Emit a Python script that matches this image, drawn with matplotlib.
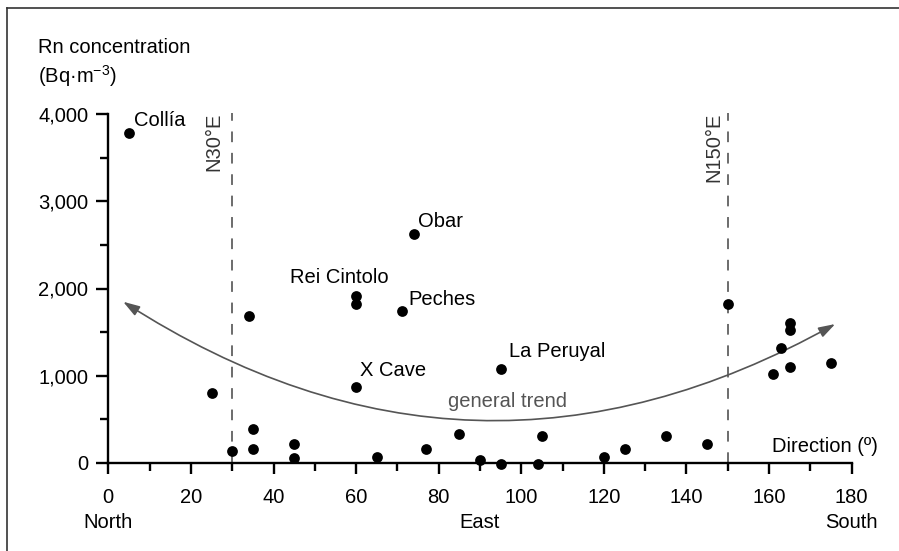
import matplotlib.pyplot as plt
from matplotlib.lines import Line2D

plt.rcParams['font.family'] = ['Liberation Sans', 'DejaVu Sans']
plt.rcParams['mathtext.fontset'] = 'custom'
plt.rcParams['mathtext.rm'] = 'Liberation Sans'
plt.rcParams['mathtext.it'] = 'Liberation Sans'

# cave direction (degrees) vs radon concentration (Bq m-3)
direction = [5, 25, 30, 34, 35, 35, 45, 45, 60, 60, 60, 65, 71, 74, 77, 85,
             90, 95, 95, 104, 105, 120, 125, 135, 145, 150, 161, 163, 165,
             165, 165, 175]
radon = [3790, 800, 130, 1690, 390, 160, 220, 50, 1910, 1820, 870, 70, 1740,
         2620, 160, 330, 30, -15, 1080, -15, 310, 70, 160, 310, 220, 1820,
         1020, 1320, 1600, 1520, 1100, 1150]

# named caves: (name, direction, radon, offset in points, alignment)
cave_names = ['Collía', 'Obar', 'Rei Cintolo', 'Peches', 'X Cave', 'La Peruyal']
cave_dir = [5, 74, 60, 71, 60, 95]
cave_rn = [3790, 2620, 1910, 1740, 870, 1080]
cave_offsets = [(3.8, 4.8), (3.2, 5.4), (-12.3, 9.6), (4.9, 4.5), (2.8, 7.8), (6.3, 8.1)]
cave_ha = ['left', 'left', 'center', 'left', 'left', 'left']

ref_dirs = [30, 150]
ref_labels = ['N30°E', 'N150°E']
ref_top = 4015

trend_start = (3.6, 1848)
trend_end = (176, 1592)

compass_pos = [0, 90, 180]
compass_labels = ['North', 'East', 'South']

xticks = [0, 20, 40, 60, 80, 100, 120, 140, 160, 180]
yticks = [0, 1000, 2000, 3000, 4000]
ytick_labels = ['0', '1,000', '2,000', '3,000', '4,000']

fs = 14.5
fig = plt.figure(figsize=(8.99, 5.51), dpi=100)
ax = fig.add_axes([108.3 / 899, (551 - 462.7) / 551, 743.4 / 899, 348.4 / 551])

ax.scatter(direction, radon, s=60, color='black', zorder=4, clip_on=False, linewidths=0)

for name, x, y, off, ha in zip(cave_names, cave_dir, cave_rn, cave_offsets, cave_ha):
    ax.annotate(name, (x, y), xytext=off, textcoords='offset points',
                ha=ha, va='baseline', fontsize=fs, color='black')

# reference directions
gaps = [-6.0, -3.2]
for x, lab, g in zip(ref_dirs, ref_labels, gaps):
    ax.axvline(x, ymin=0, ymax=ref_top / 4000, color='#444444', lw=1.1,
               dashes=(7, 7), clip_on=False, zorder=1)
    ax.annotate(lab, (x, ref_top), xytext=(g, 0), textcoords='offset points',
                rotation=90, ha='right', va='top', fontsize=fs, color='#333333',
                annotation_clip=False)

# general trend arrow
ax.annotate('', xy=trend_end, xytext=trend_start,
            arrowprops=dict(arrowstyle='<|-|>,head_length=0.5,head_width=0.16',
                            connectionstyle='arc3,rad=0.3', color='#555555',
                            lw=1.2, shrinkA=0, shrinkB=0, mutation_scale=20))
ax.text(96.7, 640, 'general trend', ha='center', va='baseline', fontsize=fs,
        color='#555555')

ax.text(186.3, 123, 'Direction (º)', ha='right', va='baseline', fontsize=fs,
        clip_on=False)

for x, lab in zip(compass_pos, compass_labels):
    ax.text(x, -0.1883, lab, transform=ax.get_xaxis_transform(), ha='center',
            va='baseline', fontsize=fs)

ax.set_xlim(0, 180)
ax.set_ylim(0, 4000)
ax.set_xticks(xticks)
ax.set_xticks(range(10, 180, 20), minor=True)
ax.set_yticks(yticks)
ax.set_yticklabels(ytick_labels)
ax.set_yticks([500, 1500, 2500, 3500], minor=True)

for s in ['top', 'right']:
    ax.spines[s].set_visible(False)
for s in ['left', 'bottom']:
    ax.spines[s].set_linewidth(1.7)

ax.tick_params(axis='x', which='major', length=8, width=1.7, pad=10, labelsize=fs)
ax.tick_params(axis='x', which='minor', length=6, width=1.7)
ax.tick_params(axis='y', which='major', length=8.4, width=1.7, pad=6, labelsize=fs)
ax.tick_params(axis='y', which='minor', length=5.8, width=1.7)

fig.text(38 / 899, 1 - 53 / 551, 'Rn concentration', ha='left', va='baseline', fontsize=fs)
fig.text(38 / 899, 1 - 83.3 / 551, r'(Bq·m$^{\mathregular{-3}}$)', ha='left',
         va='baseline', fontsize=fs)

# outer frame (left and top edges)
fig.add_artist(Line2D([6.5 / 899, 6.5 / 899], [0, 1 - 7.5 / 551],
                      transform=fig.transFigure, color='#333333', lw=1.2))
fig.add_artist(Line2D([6.5 / 899, 1], [1 - 7.5 / 551, 1 - 7.5 / 551],
                      transform=fig.transFigure, color='#333333', lw=1.2))

fig.savefig('out.png', dpi=100)
